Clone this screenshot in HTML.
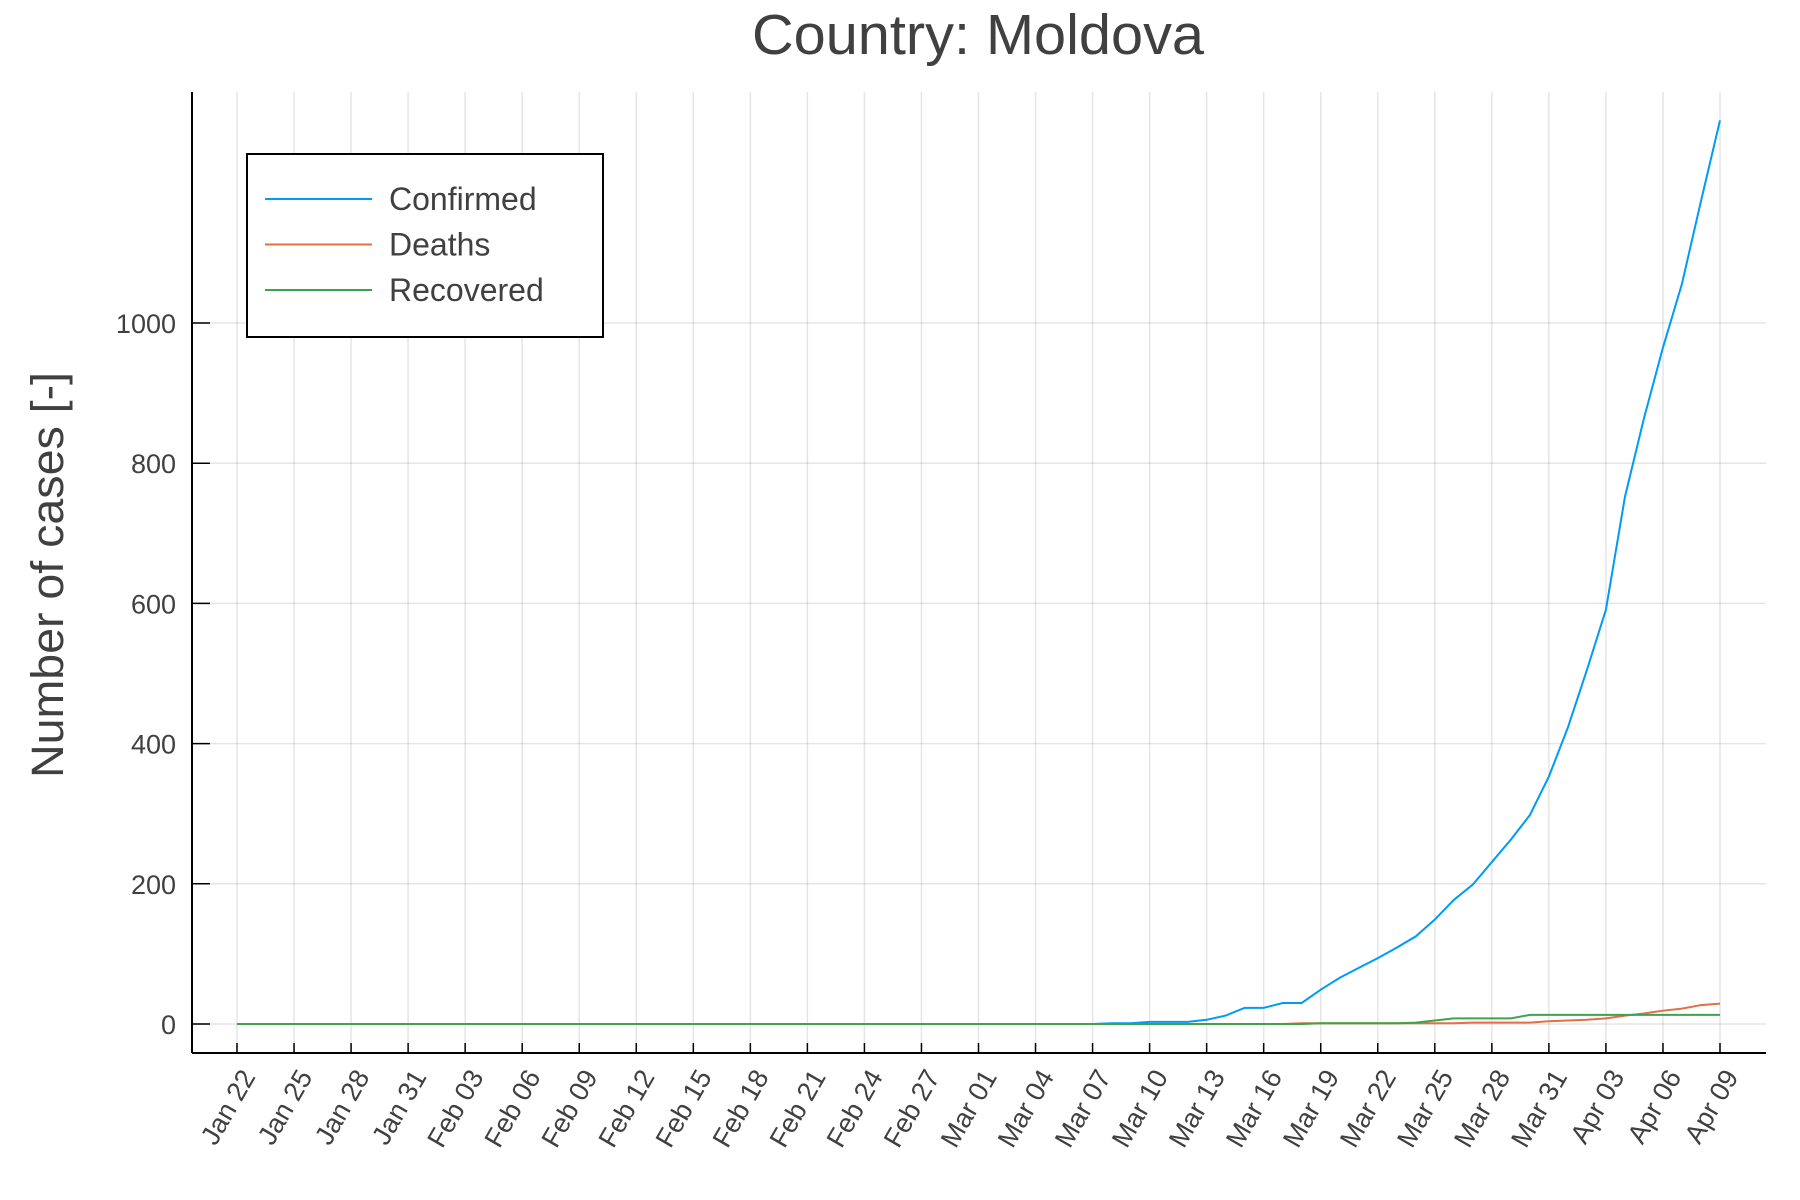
<!DOCTYPE html>
<html><head><meta charset="utf-8"><style>
html,body{margin:0;padding:0;background:#fff;}
svg{display:block;font-family:"Liberation Sans",sans-serif;}
</style></head><body>
<svg id="chart" width="1800" height="1200" viewBox="0 0 1800 1200">
<rect width="1800" height="1200" fill="#fff"/>
<text x="978" y="54" text-anchor="middle" font-size="57" fill="#404040" textLength="452" lengthAdjust="spacingAndGlyphs">Country: Moldova</text>
<text transform="translate(63,575) rotate(-90)" text-anchor="middle" font-size="45" fill="#404040" textLength="406" lengthAdjust="spacingAndGlyphs">Number of cases [-]</text>
<g id="grid"></g><g id="series"></g><g id="axes"></g><g id="legend"></g>
</svg>
<script>
const confirmed = [0,0,0,0,0,0,0,0,0,0,0,0,0,0,0,0,0,0,0,0,0,0,0,0,0,0,0,0,0,0,0,0,0,0,0,0,0,0,0,0,0,0,0,0,0,0,1,1,3,3,3,6,12,23,23,30,30,49,66,80,94,109,125,149,177,199,231,263,298,353,423,505,591,752,864,965,1056,1174,1289];
const deaths = [0,0,0,0,0,0,0,0,0,0,0,0,0,0,0,0,0,0,0,0,0,0,0,0,0,0,0,0,0,0,0,0,0,0,0,0,0,0,0,0,0,0,0,0,0,0,0,0,0,0,0,0,0,0,0,0,1,1,1,1,1,1,1,1,1,2,2,2,2,4,5,6,8,12,15,19,22,27,29];
const recovered = [0,0,0,0,0,0,0,0,0,0,0,0,0,0,0,0,0,0,0,0,0,0,0,0,0,0,0,0,0,0,0,0,0,0,0,0,0,0,0,0,0,0,0,0,0,0,0,0,0,0,0,0,0,0,0,0,0,1,1,1,1,1,2,5,8,8,8,8,13,13,13,13,13,13,13,13,13,13,13];
const xTickLabels = ["Jan 22","Jan 25","Jan 28","Jan 31","Feb 03","Feb 06","Feb 09","Feb 12","Feb 15","Feb 18","Feb 21","Feb 24","Feb 27","Mar 01","Mar 04","Mar 07","Mar 10","Mar 13","Mar 16","Mar 19","Mar 22","Mar 25","Mar 28","Mar 31","Apr 03","Apr 06","Apr 09"];
const yTicks = [0,200,400,600,800,1000];
const seriesNames = ["Confirmed","Deaths","Recovered"];
const seriesColors = ["#009af9","#e26f46","#3da44d"];

const NS="http://www.w3.org/2000/svg";
const L=192,R=1766,T=92,B=1053;
const X=d=>237+d*(1720-237)/78;
const Y=v=>1024-v*(1024-323)/1000;
function mk(tag,attrs,parent){const e=document.createElementNS(NS,tag);for(const k in attrs)e.setAttribute(k,attrs[k]);parent.appendChild(e);return e;}
const grid=document.getElementById('grid'),axes=document.getElementById('axes'),ser=document.getElementById('series'),leg=document.getElementById('legend');
xTickLabels.forEach((lab,i)=>{
  const x=X(i*3);
  const g=mk('line',{x1:x,x2:x,y1:T,y2:B,stroke:'#000','stroke-opacity':0.1,'stroke-width':1.5},grid);
  
  
  const t=mk('line',{x1:x,x2:x,y1:B,y2:B-10,stroke:'#000','stroke-width':1.5},axes);
  
  
  const tx=mk('text',{transform:`translate(${x+13},${B+20}) rotate(-60)`,'text-anchor':'end','dominant-baseline':'middle','font-size':27,fill:'#404040'},axes);
  tx.textContent=lab;
  
  
});
yTicks.forEach(v=>{
  const y=Y(v);
  const g=mk('line',{x1:L,x2:R,y1:y,y2:y,stroke:'#000','stroke-opacity':0.1,'stroke-width':1.5},grid);
  
  
  const t=mk('line',{x1:L,x2:L+18,y1:y,y2:y,stroke:'#000','stroke-width':1.5},axes);
  
  
  const tx=mk('text',{x:L-16,y:y+10,'text-anchor':'end','font-size':27,fill:'#404040'},axes);
  tx.textContent=v;
  
  
});
const ax1=mk('line',{x1:L,x2:L,y1:T,y2:B,stroke:'#000','stroke-width':2},axes);


const ax2=mk('line',{x1:L,x2:R,y1:B,y2:B,stroke:'#000','stroke-width':2},axes);


[confirmed,deaths,recovered].forEach((arr,si)=>{
  const p=mk('polyline',{points:arr.map((v,i)=>X(i)+','+Y(v)).join(' '),fill:'none',stroke:seriesColors[si],'stroke-width':2},ser);
  
  
});
const box=mk('rect',{x:247,y:154,width:356,height:183,fill:'#fff',stroke:'#000','stroke-width':2},leg);


seriesNames.forEach((n,i)=>{
  const y=199+i*45.5;
  const l=mk('line',{x1:265,x2:372,y1:y,y2:y,stroke:seriesColors[i],'stroke-width':2},leg);
  
  
  const t=mk('text',{x:389,y:y+11,'font-size':32,fill:'#404040'},leg);
  t.textContent=n;
  
  
});
</script>
</body></html>
